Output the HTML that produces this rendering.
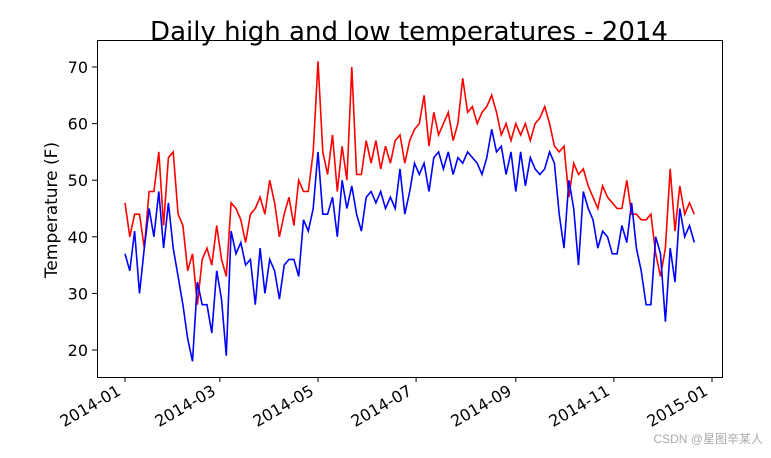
<!DOCTYPE html>
<html><head><meta charset="utf-8"><style>
body{margin:0;background:#fff;}
svg text{font-family:"DejaVu Sans","Liberation Sans",sans-serif;}
</style></head><body>
<svg width="771" height="453" viewBox="0 0 771 453" xmlns="http://www.w3.org/2000/svg">
<rect width="771" height="453" fill="#fff"/>
<text x="409" y="40" font-size="26" text-anchor="middle" fill="#000">Daily high and low temperatures - 2014</text>
<text x="0" y="0" font-size="17" text-anchor="middle" transform="translate(57,210) rotate(-90)">Temperature (F)</text>
<g id="lines"></g>
<rect x="97.5" y="40.5" width="625" height="337" fill="none" stroke="#000" stroke-width="1"/>
<g id="axes"></g>
<text x="763" y="443" font-size="12" text-anchor="end" fill="#aaa" style="font-family:'Liberation Sans','Noto Sans CJK SC',sans-serif">CSDN @星图辛某人</text>
</svg>
<script>
const days = [];
for (let d = 0; d <= 354; d += 3) days.push(d);
const highs = [46,40,44,44,38,48,48,55,42,54,55,44,42,34,37,28,36,38,35,42,36,33,46,45,43,39,44,45,47,44,50,46,40,44,47,42,50,48,48,55,71,55,51,58,48,56,50,70,51,51,57,53,57,52,56,53,57,58,53,57,59,60,65,56,62,58,60,62,57,60,68,62,63,60,62,63,65,62,58,60,57,60,58,60,57,60,61,63,60,56,55,56,47,53,51,52,49,47,45,49,47,46,45,45,50,44,44,43,43,44,37,33,38,52,41,49,44,46,44];
const lows = [37,34,41,30,38,45,40,48,38,46,38,33,28,22,18,32,28,28,23,34,29,19,41,37,39,35,36,28,38,30,36,34,29,35,36,36,33,43,41,45,55,44,44,47,40,50,45,49,44,41,47,48,46,48,45,47,45,52,44,48,53,51,53,48,54,55,52,55,51,54,53,55,54,53,51,54,59,55,56,51,55,48,55,49,54,52,51,52,55,53,44,38,50,45,35,48,45,43,38,41,40,37,37,42,39,46,38,34,28,28,40,37,25,38,32,45,40,42,39];
const yTicks = [20,30,40,50,60,70];
const xTickDays = [0,59,120,181,243,304,365];
const xTickLabels = ["2014-01","2014-03","2014-05","2014-07","2014-09","2014-11","2015-01"];
const xs = d => 125 + d * (587/365);
const ys = v => 350 - (v - 20) * 5.66;
const NS = "http://www.w3.org/2000/svg";
const lines = document.getElementById('lines');
function drawLine(vals, color, name) {
  const p = document.createElementNS(NS, 'polyline');
  p.setAttribute('points', vals.map((v, i) => xs(days[i]).toFixed(1) + ',' + ys(v).toFixed(1)).join(' '));
  p.setAttribute('fill', 'none');
  p.setAttribute('stroke', color);
  p.setAttribute('stroke-width', '1.6');
  
  
  lines.appendChild(p);
}
drawLine(highs, '#ff0000', 'high-temperature-line');
drawLine(lows, '#0000ff', 'low-temperature-line');
const axes = document.getElementById('axes');
yTicks.forEach(t => {
  const y = ys(t);
  const l = document.createElementNS(NS, 'line');
  l.setAttribute('x1', 97); l.setAttribute('x2', 92); l.setAttribute('y1', y); l.setAttribute('y2', y);
  l.setAttribute('stroke', '#000');
  
  
  axes.appendChild(l);
  const tx = document.createElementNS(NS, 'text');
  tx.setAttribute('x', 88); tx.setAttribute('y', y + 6);
  tx.setAttribute('font-size', '16'); tx.setAttribute('text-anchor', 'end');
  
  
  tx.textContent = t;
  axes.appendChild(tx);
});
xTickDays.forEach((d, i) => {
  const x = xs(d);
  const l = document.createElementNS(NS, 'line');
  l.setAttribute('x1', x); l.setAttribute('x2', x); l.setAttribute('y1', 377); l.setAttribute('y2', 382);
  l.setAttribute('stroke', '#000');
  
  
  axes.appendChild(l);
  const tx = document.createElementNS(NS, 'text');
  tx.setAttribute('font-size', '16'); tx.setAttribute('text-anchor', 'end');
  tx.setAttribute('transform', 'translate(' + (x - 3) + ',394) rotate(-30)');
  
  
  tx.textContent = xTickLabels[i];
  axes.appendChild(tx);
});
</script>
</body></html>
